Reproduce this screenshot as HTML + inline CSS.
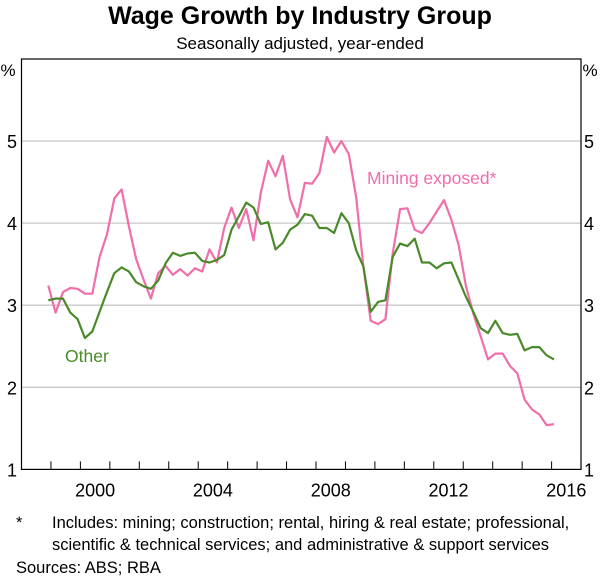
<!DOCTYPE html>
<html><head><meta charset="utf-8"><style>
body{margin:0;background:#fff;font-family:"Liberation Sans",sans-serif}
svg text{font-family:"Liberation Sans",sans-serif}
</style></head><body>
<svg id="c" width="600" height="577" xmlns="http://www.w3.org/2000/svg">
<text x="300" y="24" text-anchor="middle" font-size="25" font-weight="bold">Wage Growth by Industry Group</text>
<text x="300" y="49" text-anchor="middle" font-size="17">Seasonally adjusted, year-ended</text>
<g id="grid"></g><g id="axes"></g><g id="lines"></g>
<text x="367" y="184" font-size="17.5" fill="#f06ea9">Mining exposed*</text>
<text x="65" y="362" font-size="17.5" fill="#4a8a2a">Other</text>
<text x="16" y="528" font-size="16.5">*</text>
<text x="52" y="528" font-size="16.5">Includes: mining; construction; rental, hiring &amp; real estate; professional,</text>
<text x="52" y="550" font-size="16.5">scientific &amp; technical services; and administrative &amp; support services</text>
<text x="16" y="573" font-size="16.5">Sources:  ABS; RBA</text>
</svg>
<script>
const miningValues=[3.24,2.91,3.16,3.21,3.20,3.14,3.14,3.59,3.86,4.30,4.41,3.96,3.56,3.31,3.08,3.39,3.48,3.37,3.44,3.36,3.45,3.41,3.68,3.52,3.94,4.19,3.94,4.17,3.79,4.37,4.76,4.57,4.82,4.29,4.07,4.49,
4.48,4.61,5.05,4.86,5.00,4.84,4.32,3.47,2.81,2.77,2.83,3.63,4.17,4.18,3.92,3.88,4.00,4.14,4.28,4.04,3.73,3.23,2.90,2.62,2.34,2.41,2.41,2.26,2.17,1.85,1.73,1.67,1.54,1.55];
const otherValues=[3.06,3.08,3.08,2.91,2.83,2.60,2.68,2.92,3.16,3.39,3.46,3.41,3.28,3.23,3.20,3.30,3.51,3.64,3.60,3.63,3.64,3.54,3.52,3.55,3.61,3.92,4.08,4.25,4.19,3.99,4.01,3.68,3.76,3.92,3.98,4.11,
4.09,3.94,3.94,3.88,4.12,4.00,3.67,3.47,2.92,3.04,3.06,3.59,3.75,3.72,3.81,3.52,3.52,3.45,3.51,3.52,3.31,3.10,2.92,2.72,2.66,2.81,2.66,2.64,2.65,2.45,2.49,2.49,2.39,2.34];
const yTicks=[1,2,3,4,5,6];
const xLabels=[2000,2004,2008,2012,2016];
const startDate=1998.91, endDate=2016.08;
const NS="http://www.w3.org/2000/svg";
const L=21.5,R=581,T=59,B=469.4;
function x(t){return L+(t-1998)*29.45;}
function y(v){return 141+(5-v)*82.1;}
function el(tag,a,p){const e=document.createElementNS(NS,tag);for(const k in a)e.setAttribute(k,a[k]);document.getElementById(p).appendChild(e);return e;}
yTicks.forEach(v=>{
 if(v>1&&v<6){const g=el('line',{x1:L,x2:R,y1:y(v),y2:y(v),stroke:'#c8c8c8','stroke-width':1.3},'grid');
 
 }
 if(v<6){
 const a=el('text',{x:12,y:y(v)+7,'text-anchor':'middle','font-size':18},'axes');a.textContent=v;
 
 
 const b=el('text',{x:589,y:y(v)+7,'text-anchor':'middle','font-size':18},'axes');b.textContent=v;
 
 }
});
const pl=el('text',{x:8,y:76,'font-size':17,'text-anchor':'middle'},'axes');pl.textContent='%';


const pr=el('text',{x:590,y:76,'font-size':17,'text-anchor':'middle'},'axes');pr.textContent='%';


const fr=el('rect',{x:L,y:T,width:R-L,height:B-T,fill:'none',stroke:'#000','stroke-width':1.2},'axes');


for(let yr=1999;yr<2018;yr++){const tk=el('line',{x1:x(yr),x2:x(yr),y1:B,y2:B-8,stroke:'#000','stroke-width':1},'axes');
 
 }
xLabels.forEach(yr=>{const t=el('text',{x:x(yr+0.5),y:B+27,'text-anchor':'middle','font-size':18},'axes');t.textContent=yr;
 
 });
function line(vals,color,name){
 const n=vals.length,step=(endDate-startDate)/(n-1);
 const d=vals.map((v,i)=>(i?'L':'M')+x(startDate+i*step).toFixed(1)+','+y(v).toFixed(1)).join('');
 const p=el('path',{d:d,fill:'none',stroke:color,'stroke-width':2.2,'stroke-linejoin':'round'},'lines');
 
 
}
line(miningValues,'#f06ea9','mining-exposed-line');
line(otherValues,'#4a8a2a','other-line');
</script>
</body></html>
